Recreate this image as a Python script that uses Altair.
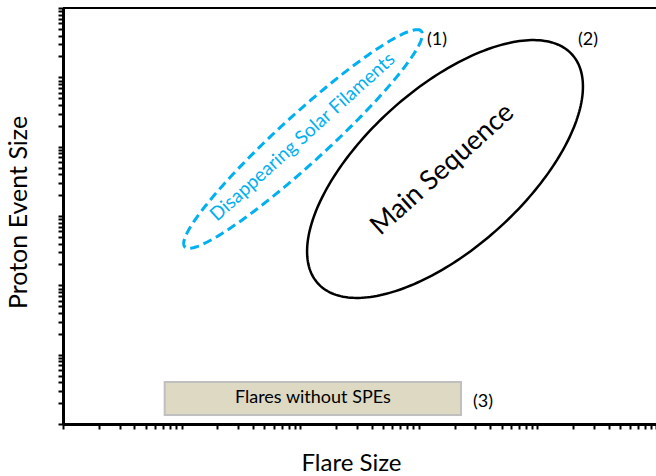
import altair as alt
import numpy as np
import pandas as pd

# Axis tick values (log decades with minor ticks)
x_ticks = [k * 10.0 ** n for n in range(0, 5) for k in range(1, 10)] + [1e5]
y_ticks = [k * 10.0 ** n for n in range(0, 6) for k in range(1, 10)] + [1e6]

# Ellipse regions in log10 space: centre, major and minor conjugate semi-diameters
ell_names = ["Disappearing Solar Filaments", "Main Sequence"]
ell_cx = [2.024, 3.221]
ell_cy = [4.111, 3.678]
ell_ux = [0.997, 1.072]
ell_uy = [1.556, 1.650]
ell_vx = [-0.136, -0.451]
ell_vy = [0.256, 0.857]

# Box for flares without SPEs
box_x1 = [7.2]
box_x2 = [2270.0]
box_y1 = [1.35]
box_y2 = [4.03]
box_label = ["Flares without SPEs"]

# Numbered labels
num_text = ["(1)", "(2)", "(3)"]
num_x = [1424.0, 26700.0, 3480.0]
num_y = [3.46e5, 3.46e5, 2.08]

# Region labels
lab_text = ["Disappearing Solar Filaments", "Main Sequence"]
lab_x = [10 ** 2.02, 10 ** 3.20]
lab_y = [10 ** 4.14, 10 ** 3.67]

W, H = 593, 416
FONT = "Lato"

t = np.linspace(0, 2 * np.pi, 241)
rows = []
for i, nm in enumerate(ell_names):
    lx = ell_cx[i] + ell_ux[i] * np.cos(t) + ell_vx[i] * np.sin(t)
    ly = ell_cy[i] + ell_uy[i] * np.cos(t) + ell_vy[i] * np.sin(t)
    for j in range(len(t)):
        rows.append({"name": nm, "i": j, "x": 10 ** lx[j], "y": 10 ** ly[j]})
ell_df = pd.DataFrame(rows)

xs = alt.Scale(type="log", domain=[1, 1e5])
ys = alt.Scale(type="log", domain=[1, 1e6])

x_axis = alt.Axis(values=x_ticks, labels=False, grid=False, ticks=True, tickSize=5,
                  tickWidth=2, tickColor="black", domainColor="black", domainWidth=3,
                  title="Flare Size", titleFont=FONT, titleFontSize=24,
                  titleFontWeight="normal", titleColor="black", titlePadding=21,
                  titleX=288)
y_axis = alt.Axis(values=y_ticks, labels=False, grid=False, ticks=True, tickSize=5,
                  tickWidth=2, tickColor="black", domainColor="black", domainWidth=3,
                  title="Proton Event Size", titleFont=FONT, titleFontSize=25,
                  titleFontWeight="normal", titleColor="black", titlePadding=26,
                  titleY=204)

base_x = alt.X("x:Q", scale=xs, axis=x_axis)
base_y = alt.Y("y:Q", scale=ys, axis=y_axis)

blue = ell_df[ell_df["name"] == ell_names[0]]
black = ell_df[ell_df["name"] == ell_names[1]]

blue_line = alt.Chart(blue).mark_line(color="#00B0F0", strokeWidth=3, strokeDash=[9, 5],
                                      interpolate="linear").encode(
    x=base_x, y=base_y, order="i:Q")
black_line = alt.Chart(black).mark_line(color="black", strokeWidth=2.5,
                                        interpolate="linear").encode(
    x=alt.X("x:Q", scale=xs), y=alt.Y("y:Q", scale=ys), order="i:Q")

box_df = pd.DataFrame({"x1": box_x1, "x2": box_x2, "y1": box_y1, "y2": box_y2,
                       "label": box_label})
box = alt.Chart(box_df).mark_rect(fill="#DDD9C3", stroke="#BFBFBF", strokeWidth=2).encode(
    x=alt.X("x1:Q", scale=xs), x2="x2:Q", y=alt.Y("y1:Q", scale=ys), y2="y2:Q")
box_df["cx"] = np.sqrt(box_df["x1"] * box_df["x2"])
box_df["cy"] = np.sqrt(box_df["y1"] * box_df["y2"])
box_text = alt.Chart(box_df).mark_text(font=FONT, fontSize=18, color="black",
                                       baseline="middle").encode(
    x=alt.X("cx:Q", scale=xs), y=alt.Y("cy:Q", scale=ys), text="label:N")

num_df = pd.DataFrame({"t": num_text, "x": num_x, "y": num_y})
nums = alt.Chart(num_df).mark_text(font=FONT, fontSize=18, color="black",
                                   baseline="middle").encode(
    x=alt.X("x:Q", scale=xs), y=alt.Y("y:Q", scale=ys), text="t:N")

lab_df = pd.DataFrame({"t": lab_text, "x": lab_x, "y": lab_y})
lab1 = alt.Chart(lab_df.iloc[[0]]).mark_text(font=FONT, fontSize=19, color="#00B0F0",
                                             angle=318, baseline="middle").encode(
    x=alt.X("x:Q", scale=xs), y=alt.Y("y:Q", scale=ys), text="t:N")
lab2 = alt.Chart(lab_df.iloc[[1]]).mark_text(font=FONT, fontSize=27, color="black",
                                             angle=318, baseline="middle").encode(
    x=alt.X("x:Q", scale=xs), y=alt.Y("y:Q", scale=ys), text="t:N")

top_rule = alt.Chart(pd.DataFrame({"a": [0]})).mark_rule(color="black", strokeWidth=2).encode(
    x=alt.value(0), x2=alt.value(W), y=alt.value(0))

chart = alt.layer(blue_line, black_line, box, box_text, nums, lab1, lab2, top_rule).properties(
    width=W, height=H,
    autosize=alt.AutoSizeParams(type="none"),
    padding={"left": 63, "top": 8, "right": 0, "bottom": 52},
).configure_view(stroke=None).configure(background="white")

chart.save("out.html", embed_options={"renderer": "svg", "actions": False})
